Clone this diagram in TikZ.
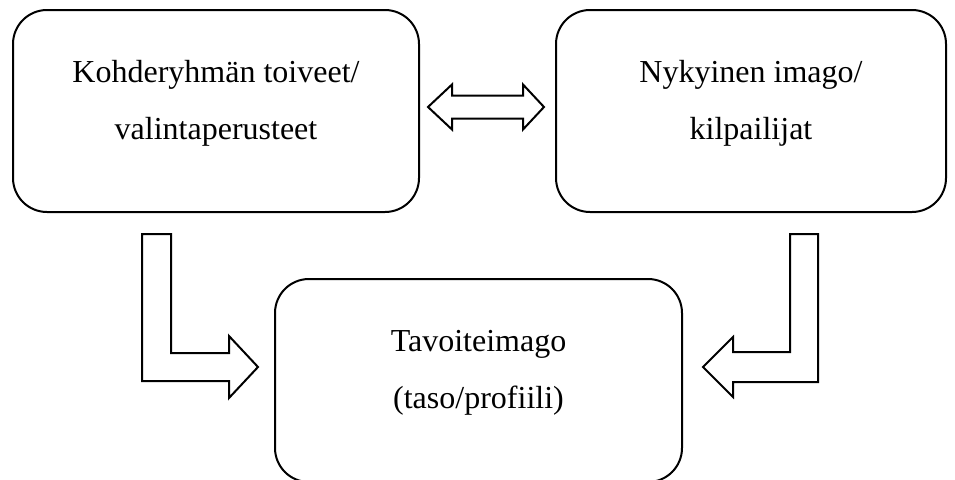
\documentclass[tikz,border=0pt]{standalone}
\usepackage{fontspec}
\setmainfont{Liberation Serif}
\usepackage{tikz}
\usetikzlibrary{calc, positioning}

\tikzset{
  imagobox/.style={draw, line width=2pt, rounded corners=34pt, inner sep=0pt},
  boxtext/.style={align=center, font=\fontsize{32}{57}\selectfont, yshift=7.5pt},
  blockarrow/.style={draw, line width=2pt, line join=miter, fill=white}
}

\begin{document}
\begin{tikzpicture}[x=1pt, y=-1pt]
  \useasboundingbox (0,0) rectangle (955,479);

  % Boxes
  \node[imagobox, minimum width=406pt, minimum height=202pt] (toiveet) at (216,111) {};
  \node[imagobox, minimum width=390pt, minimum height=202pt] (nykyinen) at (751,111) {};
  \node[imagobox, minimum width=407pt, minimum height=203pt] (tavoite) at (478.5,380.5) {};

  \node[boxtext] (toiveettxt) at (toiveet) {Kohderyhmän toiveet/\\valintaperusteet};
  \node[boxtext] (nykyinentxt) at (nykyinen) {Nykyinen imago/\\kilpailijat};
  \node[boxtext] (tavoitetxt) at (tavoite) {Tavoiteimago\\(taso/profiili)};

  % Double arrow between the upper boxes
  \draw[blockarrow] (428,107) -- (452,84.5) -- (452,95.5) -- (523,95.5) -- (523,84.5)
    -- (544,107) -- (523,129.5) -- (523,118.5) -- (452,118.5) -- (452,129.5) -- cycle;

  % Left L-arrow into the goal box
  \draw[blockarrow] (142,234) -- (171,234) -- (171,353) -- (229,353) -- (229,336)
    -- (258,367) -- (229,398) -- (229,381) -- (142,381) -- cycle;

  % Right L-arrow into the goal box
  \draw[blockarrow] (818,234) -- (790,234) -- (790,352) -- (733,352) -- (733,337)
    -- (703,367) -- (733,397) -- (733,382) -- (818,382) -- cycle;
\end{tikzpicture}
\end{document}
